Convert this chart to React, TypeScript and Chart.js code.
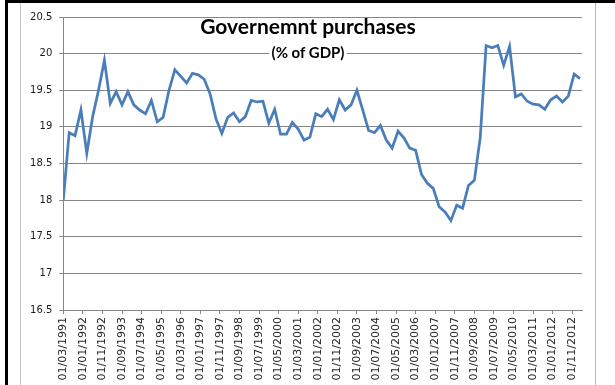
import React, { useEffect, useRef } from "react";
import { Chart, registerables } from "chart.js";

Chart.register(...registerables);

// Quarterly government purchases (% of GDP), first quarter = 01/03/1991
const startLabel = "01/03/1991";
const monthsPerPoint = 3;
const values: number[] = [
  18.0, 18.92, 18.88, 19.23, 18.64, 19.14, 19.5, 19.91,
  19.32, 19.48, 19.3, 19.48, 19.3, 19.23, 19.18, 19.36,
  19.07, 19.13, 19.5, 19.78, 19.69, 19.6, 19.73, 19.71,
  19.65, 19.45, 19.11, 18.91, 19.13, 19.19, 19.07, 19.14,
  19.36, 19.34, 19.35, 19.05, 19.24, 18.9, 18.9, 19.06,
  18.97, 18.82, 18.86, 19.18, 19.14, 19.24, 19.1, 19.37,
  19.23, 19.3, 19.5, 19.23, 18.95, 18.92, 19.02, 18.82,
  18.71, 18.94, 18.85, 18.71, 18.68, 18.35, 18.23, 18.16,
  17.91, 17.84, 17.72, 17.93, 17.89, 18.2, 18.27, 18.85,
  20.11, 20.08, 20.11, 19.84, 20.1, 19.41, 19.45, 19.35,
  19.31, 19.3, 19.24, 19.37, 19.42, 19.34, 19.42, 19.72,
  19.66,
];

// Date-axis labels, one every 10 months
const xTickLabels: string[] = [
  "01/03/1991", "01/01/1992", "01/11/1992", "01/09/1993", "01/07/1994",
  "01/05/1995", "01/03/1996", "01/01/1997", "01/11/1997", "01/09/1998",
  "01/07/1999", "01/05/2000", "01/03/2001", "01/01/2002", "01/11/2002",
  "01/09/2003", "01/07/2004", "01/05/2005", "01/03/2006", "01/01/2007",
  "01/11/2007", "01/09/2008", "01/07/2009", "01/05/2010", "01/03/2011",
  "01/01/2012", "01/11/2012",
];
const xTickStepMonths = 10;
const xAxisMaxMonths = 265;

const yTicks: number[] = [16.5, 17, 17.5, 18, 18.5, 19, 19.5, 20, 20.5];

const title = "Governemnt purchases";
const subtitle = "(% of GDP)";

export default function App() {
  const canvasRef = useRef<HTMLCanvasElement | null>(null);

  useEffect(() => {
    const canvas = canvasRef.current;
    if (!canvas) return;
    const axisGray = "#868686";
    const chart = new Chart(canvas, {
      type: "line",
      data: {
        datasets: [
          {
            label: title,
            data: values.map((v, i) => ({ x: i * monthsPerPoint, y: v })),
            borderColor: "#4A7EBB",
            borderWidth: 2.75,
            pointRadius: 0,
            pointHoverRadius: 0,
            tension: 0,
            fill: false,
          },
        ],
      },
      options: {
        animation: false,
        responsive: false,
        devicePixelRatio: 1,
        layout: { padding: { top: 14, right: 14, left: 0, bottom: 0 } },
        plugins: {
          legend: { display: false },
          title: { display: false },
          tooltip: { enabled: false },
        },
        scales: {
          x: {
            type: "linear",
            min: 0,
            max: xAxisMaxMonths,
            afterBuildTicks: (scale: any) => {
              scale.ticks = xTickLabels.map((_, k) => ({ value: k * xTickStepMonths }));
            },
            afterFit: (scale: any) => {
              scale.height = 93;
            },
            ticks: {
              autoSkip: false,
              maxRotation: 90,
              minRotation: 90,
              padding: 3,
              color: "#262626",
              font: { family: "DejaVu Sans", size: 11 },
              callback: (v: any) => xTickLabels[Math.round(Number(v) / xTickStepMonths)] ?? "",
            },
            grid: {
              drawOnChartArea: false,
              drawTicks: true,
              tickLength: 4,
              color: axisGray,
            },
            border: { color: axisGray, width: 1 },
          },
          y: {
            min: yTicks[0],
            max: yTicks[yTicks.length - 1],
            afterBuildTicks: (scale: any) => {
              scale.ticks = yTicks.map((v) => ({ value: v }));
            },
            afterFit: (scale: any) => {
              scale.width = 42.3;
            },
            ticks: {
              padding: 7,
              color: "#1a1a1a",
              font: { family: "DejaVu Sans", size: 10 },
              callback: (v: any) => String(Number(v)),
            },
            grid: {
              color: axisGray,
              drawTicks: true,
              tickLength: 4,
            },
            border: { color: axisGray, width: 1 },
          },
        },
      },
    });
    return () => chart.destroy();
  }, []);

  return (
    <div
      style={{
        position: "fixed",
        left: 0,
        top: 0,
        width: 615,
        height: 385,
        overflow: "hidden",
        background: "#fff",
      }}
    >
      <div style={{ position: "absolute", left: 20, top: 0, width: 576, height: 420, borderLeft: "1px solid #c4c4c4", borderRight: "1px solid #b8b8b8", boxSizing: "border-box" }} />
      <canvas
        ref={canvasRef}
        width={575}
        height={400}
        style={{ position: "absolute", left: 21, top: 3, width: 575, height: 400 }}
      />
      <div
        style={{
          position: "absolute",
          left: 20,
          width: 576,
          top: 16,
          textAlign: "center",
          fontFamily: "Lato, sans-serif",
          fontWeight: 700,
          fontSize: 21,
          lineHeight: "20px",
          color: "#000",
        }}
      >
        {title}
      </div>
      <div style={{ position: "absolute", left: 20, width: 576, top: 44, textAlign: "center" }}>
        <span
          style={{
            display: "inline-block",
            background: "#fff",
            padding: "0 3px",
            fontFamily: "Lato, sans-serif",
            fontWeight: 700,
            fontSize: 15,
            lineHeight: "15px",
            color: "#000",
          }}
        >
          {subtitle}
        </span>
      </div>
      <div style={{ position: "absolute", left: 5, top: 0, width: 610, height: 3, background: "#000" }} />
      <div style={{ position: "absolute", left: 5, top: 0, width: 3, height: 385, background: "#000" }} />
    </div>
  );
}
